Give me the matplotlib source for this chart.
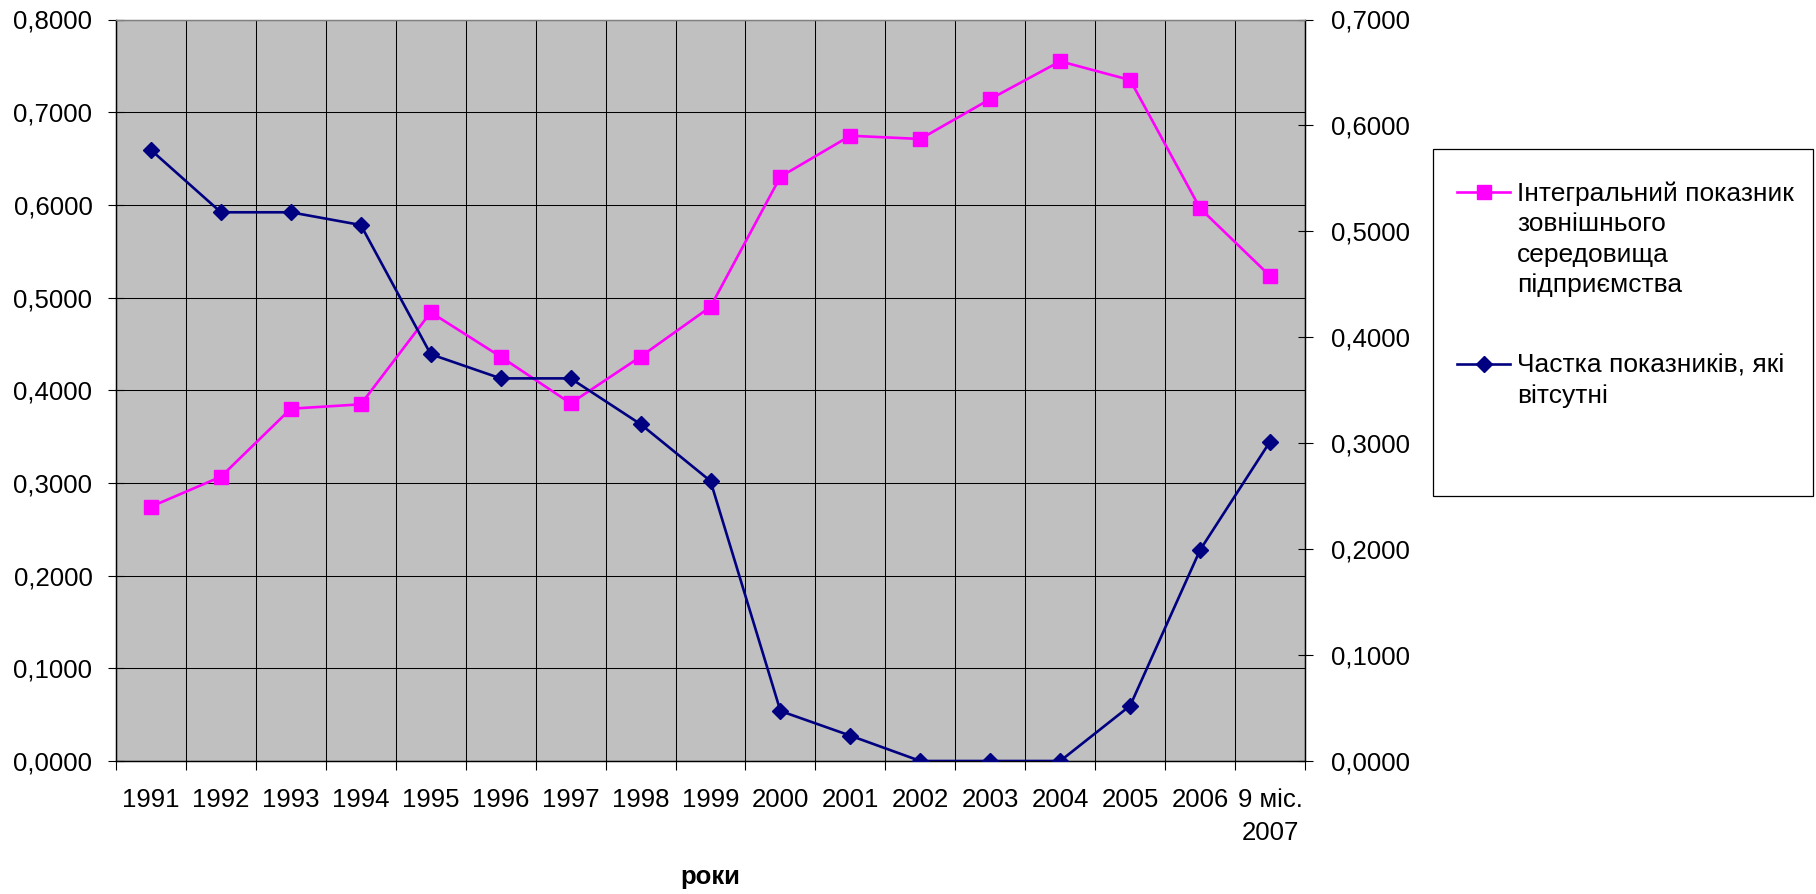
"""Integral indicator of the external environment vs share of missing indicators, 1991-2007."""
import matplotlib
matplotlib.use("Agg")
import matplotlib.pyplot as plt
from matplotlib.lines import Line2D
from matplotlib.patches import Rectangle
from matplotlib.ticker import FixedLocator, FuncFormatter, MultipleLocator, NullFormatter

plt.rcParams['font.family'] = ['Liberation Sans', 'DejaVu Sans']

YEARS = ['1991', '1992', '1993', '1994', '1995', '1996', '1997', '1998', '1999',
         '2000', '2001', '2002', '2003', '2004', '2005', '2006', '9 міс.\n2007']
# left axis
INTEGRAL = [0.2744, 0.3067, 0.3801, 0.3848, 0.4841, 0.4362, 0.3859, 0.4362, 0.4900,
            0.6304, 0.6746, 0.6711, 0.7142, 0.7549, 0.7347, 0.5963, 0.5233]
# right axis
MISSING = [0.5768, 0.5180, 0.5180, 0.5060, 0.3840, 0.3612, 0.3612, 0.3180, 0.2643,
           0.0472, 0.0239, 0.0, 0.0, 0.0, 0.0522, 0.1992, 0.3015]
LABEL_INTEGRAL = "Інтегральний показник\nзовнішнього\nсередовища\nпідприємства"
LABEL_MISSING = "Частка показників, які\nвітсутні"
XLABEL = "роки"

PINK = "#ff00ff"
NAVY = "#000080"
FS = 18.5
FS_LEG = 19

W, H = 1816, 894


def fx(px):
    return px / W


def fy(py):
    return 1 - py / H


def fmt(v, pos):
    return f"{v:.4f}".replace('.', ',')


fig = plt.figure(figsize=(W / 100, H / 100), dpi=100, facecolor="white")
ax = fig.add_axes([fx(116), fy(761), fx(1305) - fx(116), fy(19.5) - fy(761)])
ax.set_facecolor("#c0c0c0")

x = list(range(len(YEARS)))
ax.plot(x, INTEGRAL, color=PINK, lw=1.9, marker='s', ms=10, zorder=3)
ax.set_xlim(-0.5, len(YEARS) - 0.5)
ax.set_ylim(0, 0.8)
ax.yaxis.set_major_locator(MultipleLocator(0.1))
ax.yaxis.set_major_formatter(FuncFormatter(fmt))

# category boundaries carry the ticks and gridlines, labels sit at the centres
ax.xaxis.set_major_locator(FixedLocator([i - 0.5 for i in range(len(YEARS) + 1)]))
ax.xaxis.set_major_formatter(NullFormatter())
ax.xaxis.set_minor_locator(FixedLocator(x))
ax.set_xticklabels(YEARS, minor=True)
for t in ax.get_xticklabels(minor=True):
    t.set_linespacing(1.45)
ax.tick_params(axis='x', which='major', direction='out', length=6.5, width=0.8)
ax.tick_params(axis='x', which='minor', length=0, pad=19.5, labelsize=FS)
ax.tick_params(axis='y', direction='inout', length=12, width=0.8, pad=11, labelsize=FS)
ax.grid(True, which='major', color='black', lw=0.75)
ax.set_axisbelow(True)
ax.set_xlabel(XLABEL, fontsize=FS, fontweight='bold', labelpad=15)

ax2 = ax.twinx()
ax2.plot(x, MISSING, color=NAVY, lw=1.9, marker='D', ms=7.8, zorder=3)
ax2.set_ylim(0, 0.7)
ax2.yaxis.set_major_locator(MultipleLocator(0.1))
ax2.yaxis.set_major_formatter(FuncFormatter(fmt))
ax2.tick_params(axis='y', direction='inout', length=10.8, width=0.8, pad=13, labelsize=FS)

for a in (ax, ax2):
    a.spines['top'].set_color('#808080')
    for s in ('left', 'right', 'bottom'):
        a.spines[s].set_color('black')
    for s in a.spines.values():
        s.set_linewidth(0.9)

# legend box drawn by hand so the handle sits on the first text line
fig.add_artist(Rectangle((fx(1433), fy(496)), fx(1813) - fx(1433), fy(149) - fy(496),
                         transform=fig.transFigure, fill=False, edgecolor='black', lw=0.9))
entries = [(LABEL_INTEGRAL, PINK, 's', 10, 192), (LABEL_MISSING, NAVY, 'D', 7.8, 364)]
for label, color, marker, ms, ycen in entries:
    fig.add_artist(Line2D([fx(1457), fx(1510)], [fy(ycen), fy(ycen)],
                          transform=fig.transFigure, color=color, lw=1.9))
    fig.add_artist(Line2D([fx(1483.5)], [fy(ycen)], transform=fig.transFigure,
                          color=color, marker=marker, ms=ms, lw=0))
    fig.text(fx(1517), fy(ycen - 10.5), label, fontsize=FS_LEG, va='top', ha='left',
             linespacing=1.33)

fig.savefig("out.png", dpi=100, facecolor="white")
